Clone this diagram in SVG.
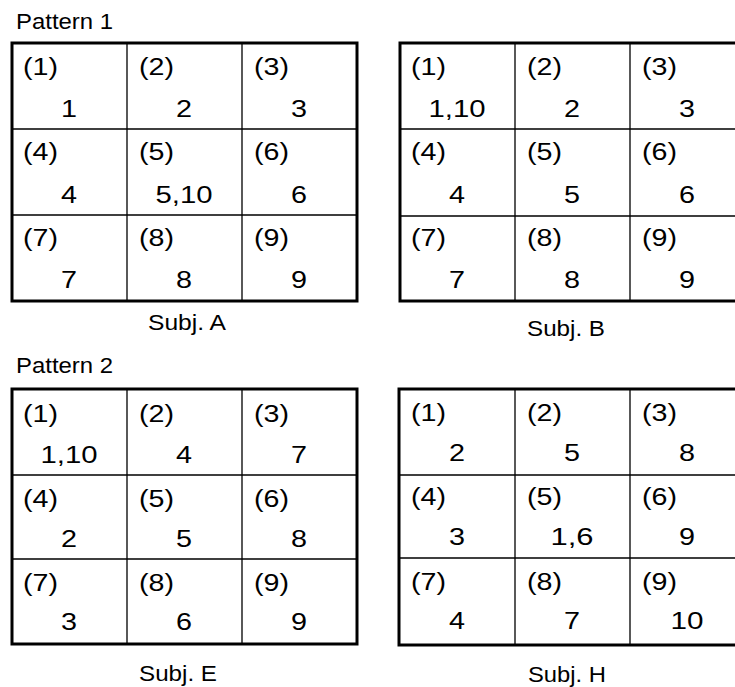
<svg xmlns="http://www.w3.org/2000/svg" width="735" height="687" viewBox="0 0 735 687">
<style>
text{font-family:"Liberation Sans",Arial,sans-serif;font-size:23px;fill:#000}
.v{text-anchor:middle}
.t{font-size:22px}
.frame{fill:#fff;stroke:#000;stroke-width:3}
.in{stroke:#000;stroke-width:1.3;fill:none}
</style>
<rect width="735" height="687" fill="#fff"/>
<text class="t" x="16" y="29" textLength="97" lengthAdjust="spacingAndGlyphs">Pattern 1</text>
<text class="t" x="16" y="373" textLength="97" lengthAdjust="spacingAndGlyphs">Pattern 2</text>

<g id="gridA">
<rect class="frame" x="12" y="43" width="345" height="258"/>
<path class="in" d="M127 43V301M242 43V301M12 129H357M12 215H357"/>
<g id="A1"><text x="23" y="75" textLength="35" lengthAdjust="spacingAndGlyphs">(1)</text><text class="v" x="69" y="117" textLength="16" lengthAdjust="spacingAndGlyphs">1</text></g>
<g id="A2"><text x="139" y="75" textLength="35" lengthAdjust="spacingAndGlyphs">(2)</text><text class="v" x="184" y="117" textLength="16" lengthAdjust="spacingAndGlyphs">2</text></g>
<g id="A3"><text x="254" y="75" textLength="35" lengthAdjust="spacingAndGlyphs">(3)</text><text class="v" x="299" y="117" textLength="16" lengthAdjust="spacingAndGlyphs">3</text></g>
<g id="A4"><text x="23" y="160" textLength="35" lengthAdjust="spacingAndGlyphs">(4)</text><text class="v" x="69" y="203" textLength="16" lengthAdjust="spacingAndGlyphs">4</text></g>
<g id="A5"><text x="139" y="160" textLength="35" lengthAdjust="spacingAndGlyphs">(5)</text><text class="v" x="184" y="203" textLength="57" lengthAdjust="spacingAndGlyphs">5,10</text></g>
<g id="A6"><text x="254" y="160" textLength="35" lengthAdjust="spacingAndGlyphs">(6)</text><text class="v" x="299" y="203" textLength="16" lengthAdjust="spacingAndGlyphs">6</text></g>
<g id="A7"><text x="23" y="246" textLength="35" lengthAdjust="spacingAndGlyphs">(7)</text><text class="v" x="69" y="288" textLength="16" lengthAdjust="spacingAndGlyphs">7</text></g>
<g id="A8"><text x="139" y="246" textLength="35" lengthAdjust="spacingAndGlyphs">(8)</text><text class="v" x="184" y="288" textLength="16" lengthAdjust="spacingAndGlyphs">8</text></g>
<g id="A9"><text x="254" y="246" textLength="35" lengthAdjust="spacingAndGlyphs">(9)</text><text class="v" x="299" y="288" textLength="16" lengthAdjust="spacingAndGlyphs">9</text></g>
</g>
<text class="v t" x="187" y="330" textLength="78" lengthAdjust="spacingAndGlyphs">Subj. A</text>

<g id="gridB">
<rect class="frame" x="400" y="43" width="345" height="258"/>
<path class="in" d="M515 43V301M630 43V301M400 129H745M400 216H745"/>
<g id="B1"><text x="411" y="75" textLength="35" lengthAdjust="spacingAndGlyphs">(1)</text><text class="v" x="457" y="117" textLength="57" lengthAdjust="spacingAndGlyphs">1,10</text></g>
<g id="B2"><text x="527" y="75" textLength="35" lengthAdjust="spacingAndGlyphs">(2)</text><text class="v" x="572" y="117" textLength="16" lengthAdjust="spacingAndGlyphs">2</text></g>
<g id="B3"><text x="642" y="75" textLength="35" lengthAdjust="spacingAndGlyphs">(3)</text><text class="v" x="687" y="117" textLength="16" lengthAdjust="spacingAndGlyphs">3</text></g>
<g id="B4"><text x="411" y="160" textLength="35" lengthAdjust="spacingAndGlyphs">(4)</text><text class="v" x="457" y="203" textLength="16" lengthAdjust="spacingAndGlyphs">4</text></g>
<g id="B5"><text x="527" y="160" textLength="35" lengthAdjust="spacingAndGlyphs">(5)</text><text class="v" x="572" y="203" textLength="16" lengthAdjust="spacingAndGlyphs">5</text></g>
<g id="B6"><text x="642" y="160" textLength="35" lengthAdjust="spacingAndGlyphs">(6)</text><text class="v" x="687" y="203" textLength="16" lengthAdjust="spacingAndGlyphs">6</text></g>
<g id="B7"><text x="411" y="246" textLength="35" lengthAdjust="spacingAndGlyphs">(7)</text><text class="v" x="457" y="288" textLength="16" lengthAdjust="spacingAndGlyphs">7</text></g>
<g id="B8"><text x="527" y="246" textLength="35" lengthAdjust="spacingAndGlyphs">(8)</text><text class="v" x="572" y="288" textLength="16" lengthAdjust="spacingAndGlyphs">8</text></g>
<g id="B9"><text x="642" y="246" textLength="35" lengthAdjust="spacingAndGlyphs">(9)</text><text class="v" x="687" y="288" textLength="16" lengthAdjust="spacingAndGlyphs">9</text></g>
</g>
<text class="v t" x="566" y="336" textLength="78" lengthAdjust="spacingAndGlyphs">Subj. B</text>

<g id="gridE">
<rect class="frame" x="12" y="389" width="345" height="255"/>
<path class="in" d="M127 389V644M242 389V644M12 475H357M12 559H357"/>
<g id="E1"><text x="23" y="422" textLength="35" lengthAdjust="spacingAndGlyphs">(1)</text><text class="v" x="69" y="463" textLength="57" lengthAdjust="spacingAndGlyphs">1,10</text></g>
<g id="E2"><text x="139" y="422" textLength="35" lengthAdjust="spacingAndGlyphs">(2)</text><text class="v" x="184" y="463" textLength="16" lengthAdjust="spacingAndGlyphs">4</text></g>
<g id="E3"><text x="254" y="422" textLength="35" lengthAdjust="spacingAndGlyphs">(3)</text><text class="v" x="299" y="463" textLength="16" lengthAdjust="spacingAndGlyphs">7</text></g>
<g id="E4"><text x="23" y="507" textLength="35" lengthAdjust="spacingAndGlyphs">(4)</text><text class="v" x="69" y="547" textLength="16" lengthAdjust="spacingAndGlyphs">2</text></g>
<g id="E5"><text x="139" y="507" textLength="35" lengthAdjust="spacingAndGlyphs">(5)</text><text class="v" x="184" y="547" textLength="16" lengthAdjust="spacingAndGlyphs">5</text></g>
<g id="E6"><text x="254" y="507" textLength="35" lengthAdjust="spacingAndGlyphs">(6)</text><text class="v" x="299" y="547" textLength="16" lengthAdjust="spacingAndGlyphs">8</text></g>
<g id="E7"><text x="23" y="591" textLength="35" lengthAdjust="spacingAndGlyphs">(7)</text><text class="v" x="69" y="630" textLength="16" lengthAdjust="spacingAndGlyphs">3</text></g>
<g id="E8"><text x="139" y="591" textLength="35" lengthAdjust="spacingAndGlyphs">(8)</text><text class="v" x="184" y="630" textLength="16" lengthAdjust="spacingAndGlyphs">6</text></g>
<g id="E9"><text x="254" y="591" textLength="35" lengthAdjust="spacingAndGlyphs">(9)</text><text class="v" x="299" y="630" textLength="16" lengthAdjust="spacingAndGlyphs">9</text></g>
</g>
<text class="v t" x="178" y="681" textLength="78" lengthAdjust="spacingAndGlyphs">Subj. E</text>

<g id="gridH">
<rect class="frame" x="399" y="389" width="346" height="256"/>
<path class="in" d="M515 389V645M630 389V645M399 475H745M399 558H745"/>
<g id="H1"><text x="411" y="421" textLength="35" lengthAdjust="spacingAndGlyphs">(1)</text><text class="v" x="457" y="461" textLength="16" lengthAdjust="spacingAndGlyphs">2</text></g>
<g id="H2"><text x="527" y="421" textLength="35" lengthAdjust="spacingAndGlyphs">(2)</text><text class="v" x="572" y="461" textLength="16" lengthAdjust="spacingAndGlyphs">5</text></g>
<g id="H3"><text x="642" y="421" textLength="35" lengthAdjust="spacingAndGlyphs">(3)</text><text class="v" x="687" y="461" textLength="16" lengthAdjust="spacingAndGlyphs">8</text></g>
<g id="H4"><text x="411" y="505" textLength="35" lengthAdjust="spacingAndGlyphs">(4)</text><text class="v" x="457" y="545" textLength="16" lengthAdjust="spacingAndGlyphs">3</text></g>
<g id="H5"><text x="527" y="505" textLength="35" lengthAdjust="spacingAndGlyphs">(5)</text><text class="v" x="572" y="545" textLength="43" lengthAdjust="spacingAndGlyphs">1,6</text></g>
<g id="H6"><text x="642" y="505" textLength="35" lengthAdjust="spacingAndGlyphs">(6)</text><text class="v" x="687" y="545" textLength="16" lengthAdjust="spacingAndGlyphs">9</text></g>
<g id="H7"><text x="411" y="590" textLength="35" lengthAdjust="spacingAndGlyphs">(7)</text><text class="v" x="457" y="629" textLength="16" lengthAdjust="spacingAndGlyphs">4</text></g>
<g id="H8"><text x="527" y="590" textLength="35" lengthAdjust="spacingAndGlyphs">(8)</text><text class="v" x="572" y="629" textLength="16" lengthAdjust="spacingAndGlyphs">7</text></g>
<g id="H9"><text x="642" y="590" textLength="35" lengthAdjust="spacingAndGlyphs">(9)</text><text class="v" x="687" y="629" textLength="33" lengthAdjust="spacingAndGlyphs">10</text></g>
</g>
<text class="v t" x="567" y="682" textLength="78" lengthAdjust="spacingAndGlyphs">Subj. H</text>
</svg>
